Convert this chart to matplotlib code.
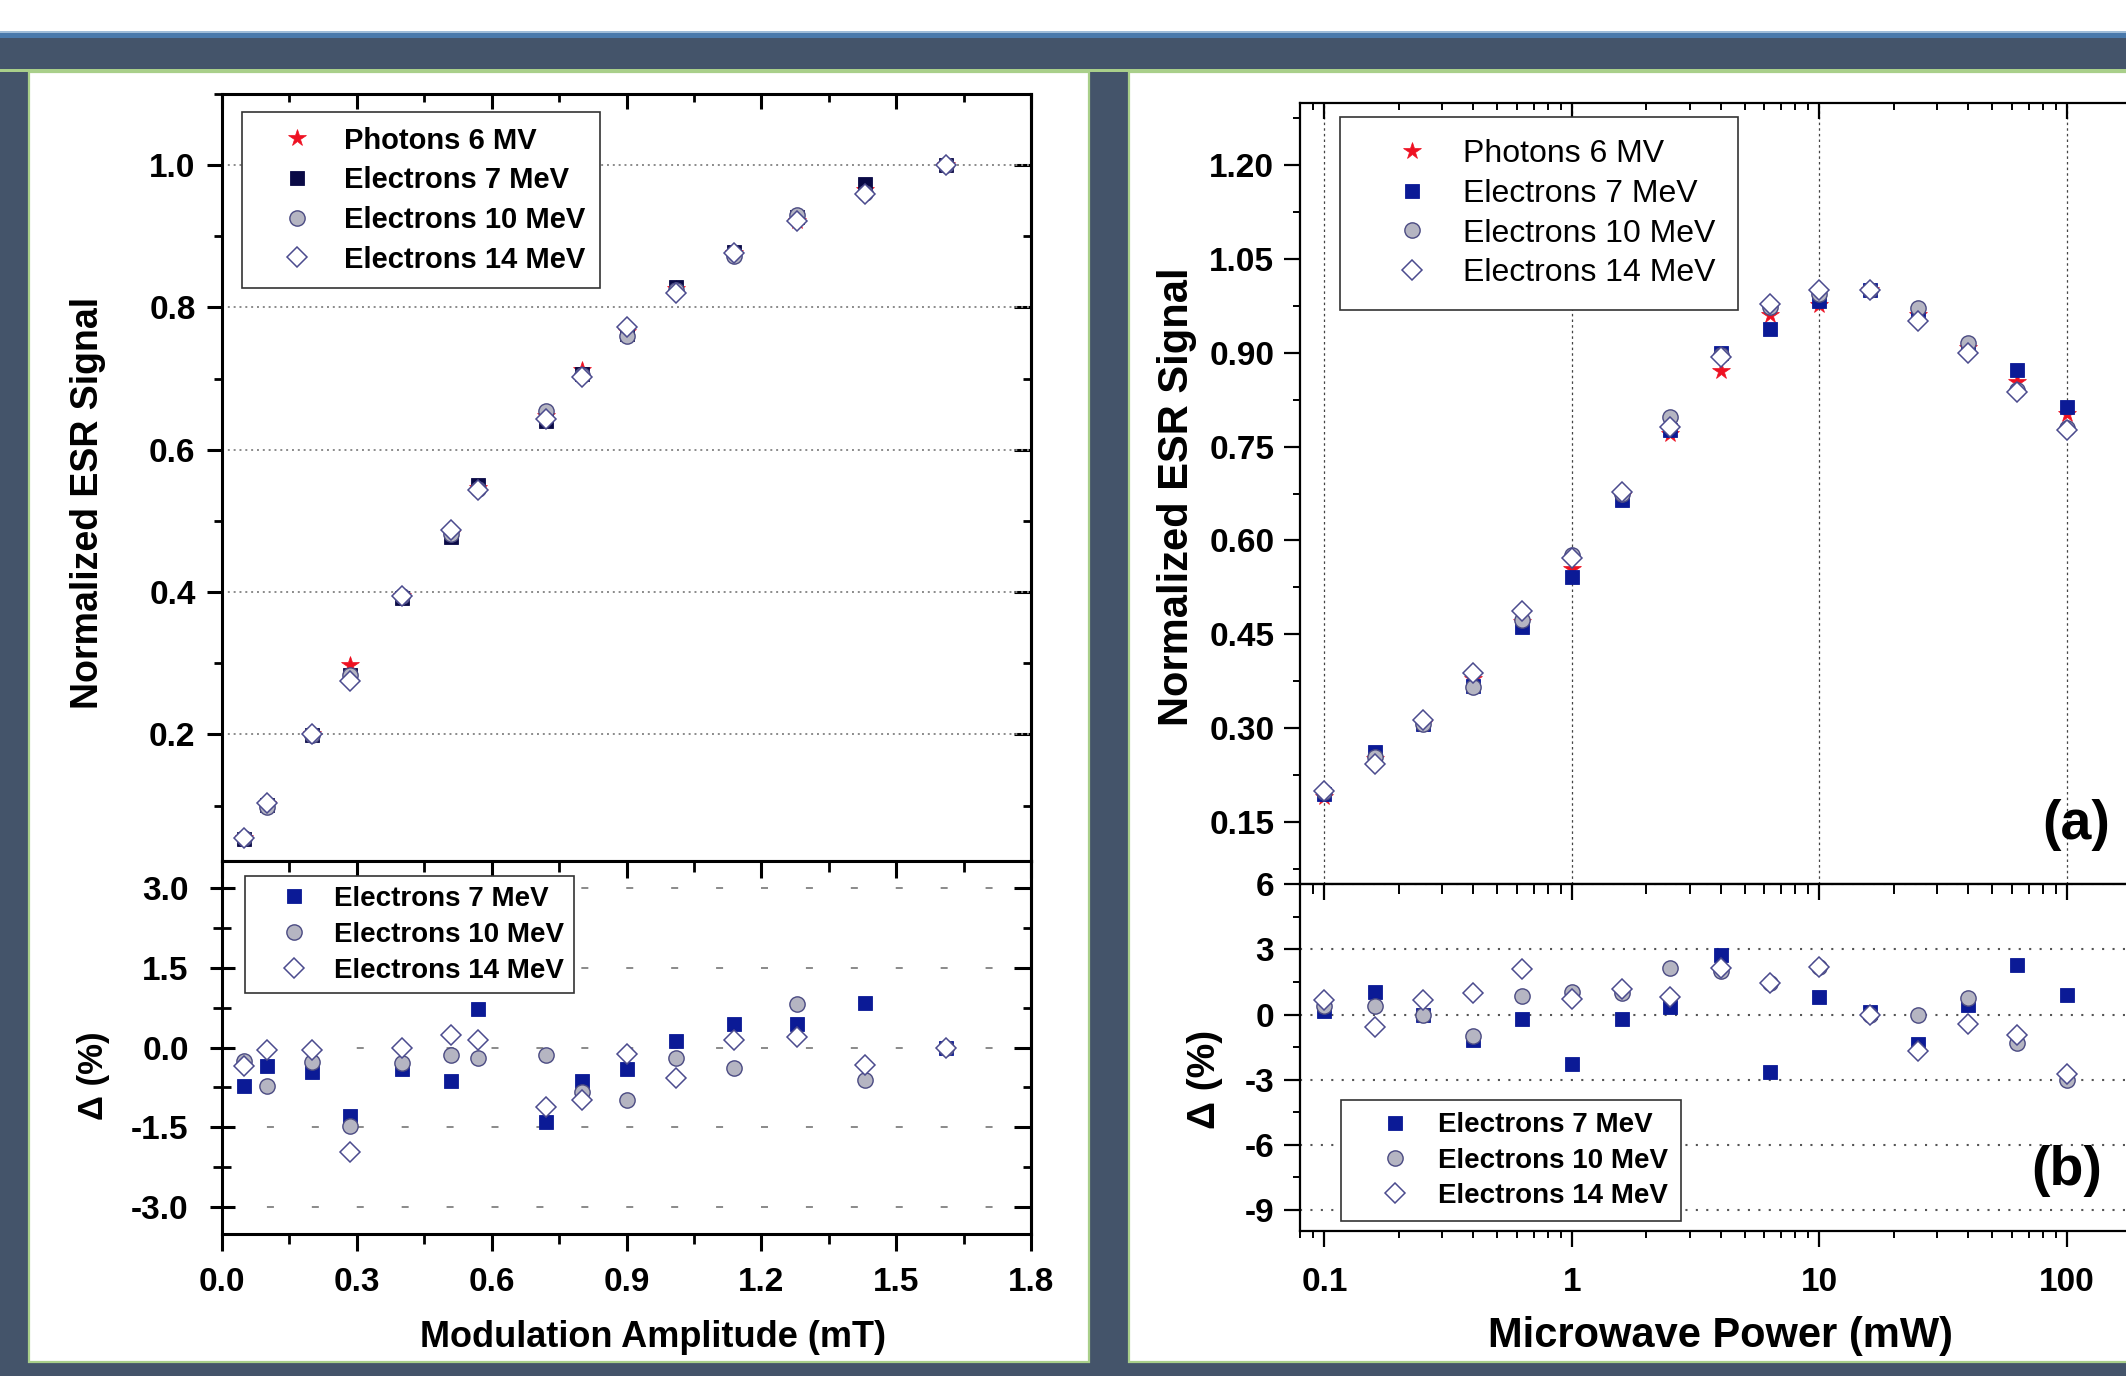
import matplotlib
matplotlib.use("Agg")
import matplotlib.pyplot as plt
from matplotlib.patches import Rectangle
from matplotlib.ticker import MultipleLocator, FuncFormatter, NullFormatter, LogLocator, FormatStrFormatter

# ---------------- data ----------------
mod_amp = [0.05, 0.10, 0.20, 0.285, 0.40, 0.51, 0.57, 0.72, 0.80, 0.90, 1.01, 1.14, 1.28, 1.43, 1.61]
mod_ph6 = [0.055, 0.102, 0.200, 0.297, 0.395, 0.481, 0.546, 0.648, 0.712, 0.765, 0.826, 0.876, 0.921, 0.965, 1.000]
mod_e7 = [0.053, 0.101, 0.199, 0.284, 0.392, 0.478, 0.550, 0.640, 0.707, 0.762, 0.829, 0.878, 0.927, 0.973, 1.000]
mod_e10 = [0.055, 0.098, 0.199, 0.283, 0.394, 0.481, 0.545, 0.655, 0.705, 0.760, 0.824, 0.873, 0.930, 0.961, 1.000]
mod_e14 = [0.054, 0.103, 0.200, 0.275, 0.395, 0.487, 0.543, 0.643, 0.702, 0.772, 0.821, 0.877, 0.922, 0.960, 1.000]

mod_d_e7 = [-0.73, -0.35, -0.46, -1.28, -0.40, -0.63, 0.73, -1.40, -0.62, -0.40, 0.13, 0.44, 0.45, 0.84, 0.0]
mod_d_e10 = [-0.25, -0.73, -0.27, -1.48, -0.30, -0.15, -0.19, -0.14, -0.83, -0.99, -0.19, -0.39, 0.81, -0.61, 0.0]
mod_d_e14 = [-0.35, -0.05, -0.05, -1.96, 0.0, 0.23, 0.15, -1.12, -0.98, -0.13, -0.57, 0.15, 0.20, -0.33, 0.0]

power = [0.1, 0.16, 0.25, 0.4, 0.63, 1.0, 1.6, 2.5, 4.0, 6.3, 10, 16, 25, 40, 63, 100]
pow_ph6 = [0.190, 0.250, 0.307, 0.379, 0.469, 0.554, 0.671, 0.770, 0.871, 0.960, 0.976, 1.000, 0.961, 0.907, 0.853, 0.803]
pow_e7 = [0.195, 0.262, 0.307, 0.368, 0.462, 0.542, 0.664, 0.776, 0.900, 0.938, 0.983, 1.000, 0.963, 0.909, 0.873, 0.813]
pow_e10 = [0.197, 0.253, 0.307, 0.366, 0.473, 0.577, 0.675, 0.797, 0.897, 0.974, 0.994, 1.000, 0.972, 0.916, 0.841, 0.780]
pow_e14 = [0.199, 0.242, 0.313, 0.388, 0.487, 0.572, 0.678, 0.781, 0.894, 0.978, 1.000, 1.000, 0.951, 0.900, 0.837, 0.776]

pow_d_e7 = [0.16, 1.04, -0.03, -1.18, -0.19, -2.29, -0.19, 0.36, 2.73, -2.64, 0.82, 0.10, -1.34, 0.44, 2.29, 0.92]
pow_d_e10 = [0.40, 0.39, -0.03, -1.01, 0.84, 1.03, 1.00, 2.13, 2.00, 1.47, 2.20, 0.0, -0.03, 0.76, -1.33, -3.00]
pow_d_e14 = [0.68, -0.58, 0.65, 0.99, 2.10, 0.73, 1.20, 0.81, 2.13, 1.44, 2.21, 0.0, -1.69, -0.43, -0.95, -2.72]

labels_all = ["Photons 6 MV", "Electrons 7 MeV", "Electrons 10 MeV", "Electrons 14 MeV"]
labels_delta = ["Electrons 7 MeV", "Electrons 10 MeV", "Electrons 14 MeV"]
mod_yticks = [0.2, 0.4, 0.6, 0.8, 1.0]

# ---------------- style ----------------
plt.rcParams['font.family'] = ['Liberation Sans', 'DejaVu Sans']
plt.rcParams['font.weight'] = 'bold'
plt.rcParams['axes.unicode_minus'] = False

W, H = 2126, 1376
fig = plt.figure(figsize=(W / 100, H / 100), dpi=100)
BG = '#44546a'
GREEN = '#a9cf8a'
fig.patch.set_facecolor(BG)

def fx(px):
    return px / W

def fy(py):
    return 1 - py / H

def frect(x0, y0, x1, y1, **kw):
    r = Rectangle((fx(x0), fy(y1)), fx(x1) - fx(x0), fy(y0) - fy(y1),
                  transform=fig.transFigure, zorder=-5, **kw)
    fig.add_artist(r)

# header strips and panels
frect(0, 0, W, 32, facecolor='white', edgecolor='none')
frect(0, 31, W, 33, facecolor='#9fbcd8', edgecolor='none')
frect(0, 33, W, 38, facecolor='#4a79ab', edgecolor='none')
frect(0, 69.5, W, 72, facecolor=GREEN, edgecolor='none')
frect(29, 72, 1089, 1362, facecolor='white', edgecolor=GREEN, linewidth=1.6)
frect(1129, 72, W + 20, 1362, facecolor='white', edgecolor=GREEN, linewidth=1.6)

RED = '#ee1122'
NAVY_DK = '#0a0a46'
NAVY = '#0b1a96'
CIRC_FC = '#b5b5c2'
CIRC_EC = '#4a4a82'
DIAM_EC = '#4b4b8e'

def series_styles(sq_color):
    return [
        dict(marker='*', color=RED, markersize=13, markeredgewidth=0.5, markeredgecolor=RED),
        dict(marker='s', color=sq_color, markersize=9.5, markeredgewidth=0.6, markeredgecolor=sq_color),
        dict(marker='o', markerfacecolor=CIRC_FC, markeredgecolor=CIRC_EC, markersize=11, markeredgewidth=1.0),
        dict(marker='D', markerfacecolor='white', markeredgecolor=DIAM_EC, markersize=10, markeredgewidth=1.1),
    ]

def make_legend(ax, handles, anchor_px, **kw):
    leg = ax.legend(handles=handles, loc='upper left',
                    bbox_to_anchor=(fx(anchor_px[0]), fy(anchor_px[1])),
                    bbox_transform=fig.transFigure, borderaxespad=0,
                    frameon=True, fancybox=False, edgecolor='#333333', framealpha=1, **kw)
    leg.get_frame().set_linewidth(1.2)
    return leg

# ---------------- axes ----------------
axUL = fig.add_axes([fx(222), fy(861), fx(1031) - fx(222), fy(94) - fy(861)])
axLL = fig.add_axes([fx(222), fy(1234), fx(1031) - fx(222), fy(861) - fy(1234)])
axUR = fig.add_axes([fx(1300), fy(884.4), fx(2141.4) - fx(1300), fy(102.7) - fy(884.4)])
axLR = fig.add_axes([fx(1300), fy(1231.4), fx(2141.4) - fx(1300), fy(884.4) - fy(1231.4)])

for ax, lw in [(axUL, 2.2), (axLL, 2.2), (axUR, 1.6), (axLR, 1.6)]:
    for s in ax.spines.values():
        s.set_linewidth(lw)
        s.set_color('black')
    ax.set_axisbelow(True)

# ---- upper left ----
st = series_styles(NAVY_DK)
ys = [mod_ph6, mod_e7, mod_e10, mod_e14]
hUL = []
for y, s, lab in zip(ys, st, labels_all):
    h, = axUL.plot(mod_amp, y, linestyle='none', label=lab, **s)
    hUL.append(h)
axUL.set_xlim(0, 1.8)
axUL.set_ylim(0.022, 1.10)
axUL.set_yticks(mod_yticks)
axUL.yaxis.set_major_formatter(FormatStrFormatter('%.1f'))
axUL.yaxis.set_minor_locator(MultipleLocator(0.1))
axUL.xaxis.set_major_locator(MultipleLocator(0.3))
axUL.xaxis.set_minor_locator(MultipleLocator(0.15))
axUL.tick_params(axis='both', which='major', labelsize=24, width=2.2, length=11)
axUL.tick_params(axis='both', which='minor', width=2.0, length=6)
axUL.tick_params(axis='x', which='both', bottom=False, labelbottom=False, top=True, direction='in')
axUL.tick_params(axis='y', which='both', direction='out', right=False)
axUL.tick_params(axis='y', which='major', pad=8)
axUL.grid(axis='y', which='major', linestyle=(0, (1, 2)), color='#8a8a8a', linewidth=1.4)
make_legend(axUL, hUL, (242, 112), fontsize=21, borderpad=0.5, labelspacing=0.4,
            handlelength=2.8, handletextpad=0.2)

# ---- lower left ----
st = series_styles(NAVY)[1:]
ds = [mod_d_e7, mod_d_e10, mod_d_e14]
hLL = []
for y, s, lab in zip(ds, st, labels_delta):
    h, = axLL.plot(mod_amp, y, linestyle='none', label=lab, **s)
    hLL.append(h)
axLL.set_xlim(0, 1.8)
axLL.set_ylim(-3.5, 3.5)
axLL.yaxis.set_major_locator(MultipleLocator(1.5))
axLL.yaxis.set_minor_locator(MultipleLocator(0.75))
axLL.yaxis.set_major_formatter(FormatStrFormatter('%.1f'))
axLL.xaxis.set_major_locator(MultipleLocator(0.3))
axLL.xaxis.set_minor_locator(MultipleLocator(0.15))
axLL.xaxis.set_major_formatter(FormatStrFormatter('%.1f'))
axLL.tick_params(axis='both', which='major', labelsize=24, width=2.2)
axLL.tick_params(axis='both', which='minor', width=2.0)
axLL.tick_params(axis='x', which='major', direction='out', length=12, top=False, pad=12)
axLL.tick_params(axis='x', which='minor', direction='out', length=7, top=False)
axLL.tick_params(axis='y', which='major', direction='inout', length=18, pad=15, right=False)
axLL.tick_params(axis='y', which='minor', direction='inout', length=13, right=False)
axLL.grid(axis='y', which='major', linestyle=(0, (3.6, 19.5)), color='#8a8a8a', linewidth=1.4)
make_legend(axLL, hLL, (245, 876), fontsize=20, borderpad=0.35, labelspacing=0.36,
            handlelength=2.8, handletextpad=0.05)

# inward right ticks for the left panels
for ax in (axUL, axLL):
    sec = ax.secondary_yaxis('right')
    sec.yaxis.set_major_locator(ax.yaxis.get_major_locator())
    sec.yaxis.set_minor_locator(ax.yaxis.get_minor_locator())
    sec.tick_params(axis='y', which='major', direction='in', length=12, width=2.2, labelright=False)
    sec.tick_params(axis='y', which='minor', direction='in', length=6, width=2.0)
    sec.spines['right'].set_linewidth(2.2)

# inward top ticks on lower-left panel (split line)
secLL = axLL.secondary_xaxis('top')
secLL.xaxis.set_major_locator(MultipleLocator(0.3))
secLL.xaxis.set_minor_locator(MultipleLocator(0.15))
secLL.tick_params(axis='x', which='major', direction='in', length=12, width=2.2, labeltop=False)
secLL.tick_params(axis='x', which='minor', direction='in', length=8, width=2.0)

# ---- upper right ----
st = series_styles(NAVY)
ys = [pow_ph6, pow_e7, pow_e10, pow_e14]
hUR = []
for y, s, lab in zip(ys, st, labels_all):
    h, = axUR.plot(power, y, linestyle='none', label=lab, **s)
    hUR.append(h)
for ax in (axUR, axLR):
    ax.set_xscale('log')
    ax.set_xlim(0.0797, 200)
    ax.xaxis.set_major_locator(LogLocator(base=10))
    ax.xaxis.set_minor_locator(LogLocator(base=10, subs=[2, 3, 4, 5, 6, 7, 8, 9]))
    ax.xaxis.set_minor_formatter(NullFormatter())
axUR.set_ylim(0.05, 1.30)
axUR.yaxis.set_major_locator(MultipleLocator(0.15))
axUR.yaxis.set_minor_locator(MultipleLocator(0.075))
axUR.yaxis.set_major_formatter(FormatStrFormatter('%.2f'))
axUR.tick_params(axis='both', which='major', labelsize=24, width=1.6, length=11.5)
axUR.tick_params(axis='both', which='minor', width=1.4, length=5)
axUR.tick_params(axis='x', which='both', bottom=False, labelbottom=False, top=True, direction='in')
axUR.tick_params(axis='y', which='both', direction='out', right=False)
axUR.tick_params(axis='y', which='major', pad=7)
axUR.grid(axis='x', which='major', linestyle=(0, (2, 2.5)), color='#444444', linewidth=0.9)
make_legend(axUR, hUR, (1340, 117), prop=dict(family='Liberation Sans', weight='normal', size=23),
            borderpad=0.7, labelspacing=0.3, handlelength=3.1, handletextpad=0.05)

# ---- lower right ----
st = series_styles(NAVY)[1:]
ds = [pow_d_e7, pow_d_e10, pow_d_e14]
hLR = []
for y, s, lab in zip(ds, st, labels_delta):
    h, = axLR.plot(power, y, linestyle='none', label=lab, **s)
    hLR.append(h)
axLR.set_ylim(-10, 6)
axLR.yaxis.set_major_locator(MultipleLocator(3))
axLR.yaxis.set_minor_locator(MultipleLocator(1.5))
axLR.yaxis.set_major_formatter(FormatStrFormatter('%d'))
axLR.xaxis.set_major_formatter(FuncFormatter(lambda v, p: f'{v:g}'))
axLR.tick_params(axis='both', which='major', labelsize=24, width=1.6, length=11.5)
axLR.tick_params(axis='both', which='minor', width=1.4, length=5)
axLR.tick_params(axis='x', which='both', direction='out', top=False)
axLR.tick_params(axis='x', which='major', pad=14)
axLR.tick_params(axis='y', which='both', direction='out', right=False)
axLR.tick_params(axis='y', which='major', pad=7)
axLR.grid(axis='y', which='major', linestyle=(0, (1, 4)), color='#555555', linewidth=1.5)
make_legend(axLR, hLR, (1341, 1100), fontsize=20, borderpad=0.45, labelspacing=0.33,
            handlelength=3.0, handletextpad=0.05)

secLR = axLR.secondary_xaxis('top')
secLR.xaxis.set_major_locator(LogLocator(base=10))
secLR.xaxis.set_minor_locator(LogLocator(base=10, subs=[2, 3, 4, 5, 6, 7, 8, 9]))
secLR.xaxis.set_major_formatter(NullFormatter())
secLR.xaxis.set_minor_formatter(NullFormatter())
secLR.tick_params(axis='x', which='major', direction='in', length=11.5, width=1.6, labeltop=False)
secLR.tick_params(axis='x', which='minor', direction='in', length=7, width=1.4)

# ---------------- axis labels ----------------
fig.text(fx(98), fy(503), 'Normalized ESR Signal', rotation=90, rotation_mode='anchor',
         ha='center', va='baseline', fontsize=27, fontweight='bold')
fig.text(fx(94), fy(1076), 'Δ (%)', rotation=90, rotation_mode='anchor',
         ha='center', va='center', fontsize=25, fontweight='bold')
fig.text(fx(653), fy(1347), 'Modulation Amplitude (mT)', ha='center', va='baseline',
         fontsize=26, fontweight='bold')
fig.text(fx(1188), fy(497), 'Normalized ESR Signal', rotation=90, rotation_mode='anchor',
         ha='center', va='baseline', fontsize=30, fontweight='bold')
fig.text(fx(1205), fy(1079), 'Δ (%)', rotation=90, rotation_mode='anchor',
         ha='center', va='center', fontsize=28, fontweight='bold')
fig.text(fx(1721), fy(1347), 'Microwave Power (mW)', ha='center', va='baseline',
         fontsize=30, fontweight='bold')
fig.text(fx(2076), fy(825), '(a)', ha='center', va='center', fontsize=40, fontweight='bold')
fig.text(fx(2067), fy(1171), '(b)', ha='center', va='center', fontsize=40, fontweight='bold')

fig.savefig('out.png', dpi=100, facecolor=fig.get_facecolor())
